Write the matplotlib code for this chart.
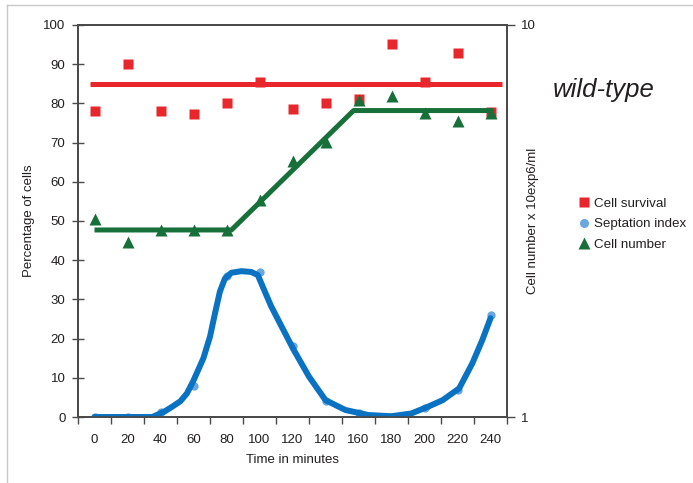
import matplotlib
matplotlib.use("Agg")
import matplotlib.pyplot as plt
from matplotlib.lines import Line2D

plt.rcParams['font.family'] = ['Liberation Sans', 'DejaVu Sans']

# ---------- data ----------
time_min = [0, 20, 40, 60, 80, 100, 120, 140, 160, 180, 200, 220, 240]
cell_survival = [78, 90, 78, 77.2, 80, 85.5, 78.5, 80, 81.1, 95.1, 85.4, 92.9, 77.7]
septation_index = [0, 0, 1.2, 7.9, 36, 37, 18.1, 4.2, 1, 0, 2.2, 7, 26]
cell_number = [3.2, 2.8, 3.0, 3.0, 3.0, 3.58, 4.5, 5.04, 6.44, 6.6, 5.97, 5.69, 5.97]  # x 10^6/ml

survival_mean = 85
survival_line_t = [-3, 247]

number_fit_t = [0, 83, 157, 242]
number_fit_v = [3.0, 3.0, 6.05, 6.05]

# hand-drawn smooth trend of the septation index
septation_fit_t = [0, 35, 42, 47, 52, 56, 60, 66, 70, 73, 76, 79, 83, 89, 95, 99, 102, 107,
                   113.5, 120.5, 130, 140, 152, 166, 180, 192, 202, 211, 221, 229, 235, 240]
septation_fit_v = [0, 0, 1.3, 2.6, 4.0, 6.0, 9.3, 15.0, 20.5, 26.4, 32, 35.3, 36.8, 37.2, 37,
                   36.2, 33.2, 28.3, 23, 17.3, 10.3, 4.3, 1.8, 0.5, 0.2, 0.9, 2.6, 4.3, 7.3,
                   13.7, 19.6, 25.2]

RED = '#e8262c'
GREEN = '#17703a'
BLUE = '#0a72c2'
DOT = '#6aa6e0'
AXC = '#4a4a4a'
TXT = '#231f20'

# ---------- figure ----------
fig = plt.figure(figsize=(6.93, 4.83), dpi=100)
ax = fig.add_axes([78/693, 1-417/483, (507-78)/693, (417-25)/483])
ax2 = ax.twinx()

# survival
ax.plot(survival_line_t, [survival_mean]*2, color=RED, lw=3.6, solid_capstyle='butt', zorder=2)
ax.plot(time_min, cell_survival, 's', color=RED, ms=7, mec='none', zorder=3)

# septation
ax.plot(time_min, septation_index, 'o', color=DOT, ms=6, mec='none', zorder=3)
ax.plot(septation_fit_t, septation_fit_v, color=BLUE, lw=4.3, solid_joinstyle='round',
        solid_capstyle='round', zorder=4)

# cell number on log axis
ax2.plot(number_fit_t, number_fit_v, color=GREEN, lw=3.6, solid_capstyle='butt', zorder=2)
ax2.plot(time_min, cell_number, '^', color=GREEN, ms=8.5, mec='none', zorder=3)

# ---------- axes ----------
ax.set_xlim(-10, 250)
ax.set_ylim(0, 100)
ax.set_yticks(range(0, 101, 10))
ax.set_xticks(time_min)
ax.set_xticks(range(-10, 251, 20), minor=True)
ax.tick_params(axis='x', which='major', length=0, pad=12, labelsize=9.5, labelcolor=TXT)
ax.tick_params(axis='x', which='minor', direction='out', length=5, width=1, color=AXC)
ax.tick_params(axis='y', direction='inout', length=8, width=1, color=AXC, pad=5,
               labelsize=9.5, labelcolor=TXT)

ax2.set_yscale('log')
ax2.set_ylim(1, 10)
ax2.set_yticks([1, 10])
ax2.set_yticklabels(['1', '10'])
ax2.yaxis.set_minor_locator(matplotlib.ticker.NullLocator())
ax2.tick_params(axis='y', direction='out', length=6, width=1, color=AXC, pad=4,
                labelsize=9.5, labelcolor=TXT)

for a in (ax, ax2):
    for s in a.spines.values():
        s.set_color(AXC)
        s.set_linewidth(1.3)

ax.set_xlabel('Time in minutes', fontsize=9.5, color=TXT, labelpad=6)
ax.set_ylabel('Percentage of cells', fontsize=9.5, color=TXT, labelpad=6)
fig.text(533/693, 1-221/483, 'Cell number x 10exp6/ml', fontsize=9.5, color=TXT,
         rotation=90, ha='center', va='center')

fig.text(604/693, 1-90/483, 'wild-type', fontsize=18.5, style='italic', color=TXT,
         ha='center', va='center')

# ---------- legend ----------
handles = [
    Line2D([], [], ls='none', marker='s', color=RED, ms=6.5, mec='none'),
    Line2D([], [], ls='none', marker='o', color=DOT, ms=6.5, mec='none'),
    Line2D([], [], ls='none', marker='^', color=GREEN, ms=8, mec='none'),
]
fig.legend(handles, ['Cell survival', 'Septation index', 'Cell number'],
           loc='upper left', bbox_to_anchor=(573/693, 1-192/483), frameon=False,
           fontsize=9.6, handlelength=0.8, handletextpad=0.35, labelspacing=0.62,
           borderaxespad=0, labelcolor=TXT)

# outer frame lines
fig.add_artist(Line2D([7/693, 1], [1-5/483, 1-5/483], color='#c8c8c8', lw=1,
                      transform=fig.transFigure))
fig.add_artist(Line2D([7/693, 7/693], [0, 1-5/483], color='#c8c8c8', lw=1,
                      transform=fig.transFigure))

fig.savefig('out.png', dpi=100)
